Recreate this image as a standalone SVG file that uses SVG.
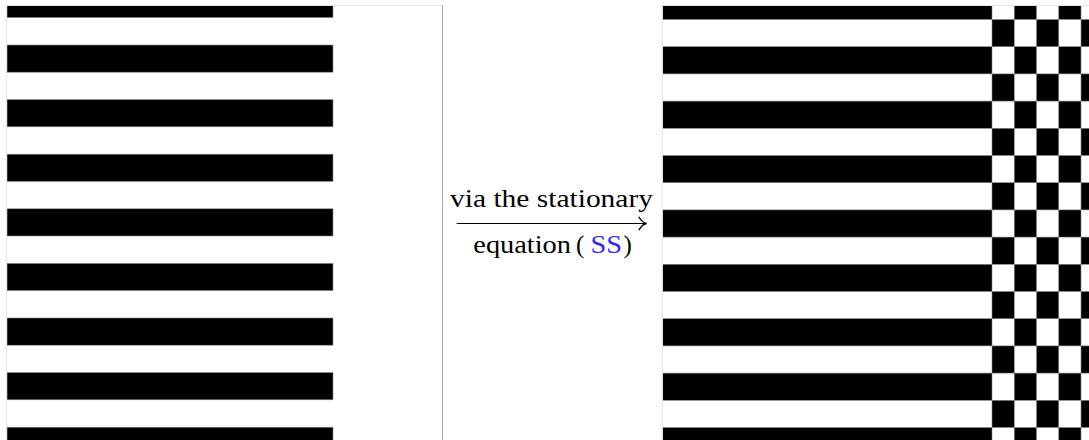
<svg xmlns="http://www.w3.org/2000/svg" xmlns:xlink="http://www.w3.org/1999/xlink" width="1089" height="440" viewBox="0 0 1089 440">
<style>
.k{fill:#000;stroke:#8a8a8a;stroke-width:0.6}
.frame{stroke:#e6e6e6;stroke-width:1.2;fill:none}
.frameDark{stroke:#a8a8a8;stroke-width:1;fill:none}
.lbl{font-family:"Liberation Serif","Times New Roman",serif;font-size:25px;fill:#000}
.ref{fill:#2a2aff}
.conn{stroke:#000;stroke-width:1.1;fill:none}
</style>
<defs>
<clipPath id="clipL"><rect x="7" y="6" width="435.5" height="434"/></clipPath>
<clipPath id="clipR"><rect x="662.5" y="6" width="426.5" height="434"/></clipPath>
<rect id="lstripe" class="k" x="7" y="0" width="326" height="27.2"/>
<g id="brow"><rect class="k" x="662.5" y="0" width="329.5" height="27.2"/><rect class="k" x="1014.25" y="0" width="22.25" height="27.2"/><rect class="k" x="1058.75" y="0" width="22.25" height="27.2"/></g>
<g id="wrow"><rect class="k" x="992" y="0" width="22.25" height="27.2"/><rect class="k" x="1036.5" y="0" width="22.25" height="27.2"/><rect class="k" x="1081" y="0" width="9" height="27.2"/></g>
<marker id="arr" markerUnits="userSpaceOnUse" markerWidth="14" markerHeight="16" viewBox="-8 -7 10 14" refX="0" refY="0" orient="auto" overflow="visible">
<path d="M-6.5,-5.5 Q-4,-1 0,0 Q-4,1 -6.5,5.5" fill="none" stroke="#000" stroke-width="1.2" stroke-linecap="round"/>
</marker>
</defs>
<rect width="1089" height="440" fill="#fff"/>
<g id="left-panel">
<g clip-path="url(#clipL)">
<use xlink:href="#lstripe" y="-9.6"/>
<use xlink:href="#lstripe" y="45"/>
<use xlink:href="#lstripe" y="99.6"/>
<use xlink:href="#lstripe" y="154.2"/>
<use xlink:href="#lstripe" y="208.8"/>
<use xlink:href="#lstripe" y="263.4"/>
<use xlink:href="#lstripe" y="318"/>
<use xlink:href="#lstripe" y="372.6"/>
<use xlink:href="#lstripe" y="427.2"/>
</g>
<path class="frame" d="M6.5,441 V5.5 H442"/>
<path class="frameDark" d="M442.5,5 V441"/>
</g>
<g id="right-panel">
<g clip-path="url(#clipR)">
<use xlink:href="#brow" y="-7.7"/>
<use xlink:href="#wrow" y="19.5"/>
<use xlink:href="#brow" y="46.7"/>
<use xlink:href="#wrow" y="73.9"/>
<use xlink:href="#brow" y="101.1"/>
<use xlink:href="#wrow" y="128.3"/>
<use xlink:href="#brow" y="155.5"/>
<use xlink:href="#wrow" y="182.7"/>
<use xlink:href="#brow" y="209.9"/>
<use xlink:href="#wrow" y="237.1"/>
<use xlink:href="#brow" y="264.3"/>
<use xlink:href="#wrow" y="291.5"/>
<use xlink:href="#brow" y="318.7"/>
<use xlink:href="#wrow" y="345.9"/>
<use xlink:href="#brow" y="373.1"/>
<use xlink:href="#wrow" y="400.3"/>
<use xlink:href="#brow" y="427.5"/>
</g>
<path class="frame" d="M662.3,441 V5.5 H1089"/>
</g>
<g id="connectors">
<path class="conn" d="M456.7,223.5 H646.5" marker-end="url(#arr)"/>
</g>
<g id="arrow-label">
<text class="lbl" x="450" y="207.3" textLength="203" lengthAdjust="spacingAndGlyphs">via the stationary</text>
<text class="lbl" x="473.3" y="253.3" textLength="97.7" lengthAdjust="spacingAndGlyphs">equation</text>
<text class="lbl" x="576" y="253.3">(</text>
<text class="lbl ref" x="590.5" y="253.3" textLength="31.5" lengthAdjust="spacingAndGlyphs">SS</text>
<text class="lbl" x="623.5" y="253.3">)</text>
</g>
</svg>
